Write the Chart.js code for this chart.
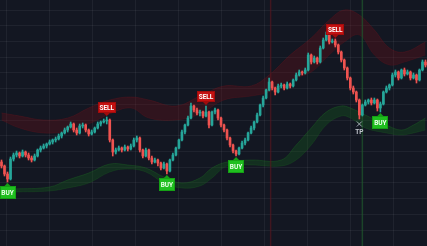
<!DOCTYPE html>
<html>
<head>
<meta charset="utf-8">
<script src="https://cdn.jsdelivr.net/npm/chart.js@4/dist/chart.umd.min.js"></script>
<style>
  html, body { margin: 0; padding: 0; background: #131722; overflow: hidden; }
  #wrap { width: 427px; height: 246px; }
</style>
</head>
<body>
<div id="wrap"><canvas id="myChart" width="427" height="246"></canvas></div>
<script>
// candles, one per bar (price points)
var opens = [84,80,72,67,87,91,93,90,94,91,
    88,86,90,96,98,100,102,104,106,107,
    110,113,116,119,122,116,113,120,121,116,
    112,114,118,122,124,125,126,106,94,96,
    98,96,99,97,100,106,108,96,90,96,
    88,84,86,83,78,82,75,86,91,98,
    106,114,121,128,140,136,133,134,130,134,
    121,134,136,128,121,116,108,101,95,92,
    98,103,106,113,118,124,131,141,148,156,
    164,158,154,160,161,158,162,160,166,171,
    174,173,176,191,184,188,184,198,206,211,
    204,205,201,194,186,178,168,158,154,146,
    131,141,144,146,143,146,138,142,154,158,
    161,171,174,168,176,172,174,168,171,166,
    176,184];
var closes = [80,72,67,87,91,93,90,94,91,88,
    86,90,96,98,100,102,104,106,107,110,
    113,116,119,122,116,113,120,121,116,112,
    114,118,122,124,125,126,106,94,96,98,
    96,99,97,100,106,108,96,90,96,88,
    84,86,83,78,82,75,86,91,98,106,
    114,121,128,140,136,133,134,130,134,121,
    134,136,128,121,116,108,101,95,92,98,
    103,106,113,118,124,131,141,148,156,164,
    158,154,160,161,158,162,160,166,171,174,
    173,176,191,184,188,184,198,206,211,204,
    205,201,194,186,178,168,158,154,146,131,
    141,144,146,143,146,138,142,154,158,161,
    171,174,168,176,172,174,168,171,166,176,
    184,181];
var highs = [86,81,74,89,93,95,94,96,95,93,
    90,92,97,100,102,103,106,107,109,112,
    114,118,120,124,123,118,122,123,122,117,
    116,119,124,125,127,129,127,107,98,100,
    99,101,100,102,108,110,109,97,98,97,
    90,88,87,84,84,83,87,93,99,107,
    116,122,130,143,141,138,136,135,140,135,
    135,138,137,129,122,117,109,102,96,99,
    105,108,114,120,125,133,142,150,157,168,
    165,159,162,163,162,164,163,167,173,176,
    175,178,193,192,190,189,200,208,214,212,
    207,207,202,195,187,179,169,160,155,147,
    142,146,147,148,148,147,144,155,160,162,
    173,176,175,177,178,176,175,173,172,177,
    186,186];
var lows = [78,70,64,66,85,89,88,89,89,86,
    84,85,89,94,97,98,101,102,104,106,
    108,112,114,118,114,111,112,118,114,110,
    111,113,117,120,123,122,104,90,92,95,
    94,95,95,96,99,104,94,88,89,86,
    82,83,80,76,77,72,74,85,90,97,
    105,112,120,127,134,131,130,128,129,118,
    120,132,126,119,114,106,99,93,90,91,
    97,101,105,112,116,123,130,139,147,155,
    156,151,153,158,156,157,158,159,165,170,
    171,172,175,182,183,182,183,197,205,202,
    203,199,192,184,176,166,156,152,144,127,
    130,140,142,141,142,135,134,141,153,156,
    160,169,166,167,170,171,166,167,163,165,
    175,179];

// resistance cloud (red) and support cloud (green), by bar
var redX = [0,6,14,22,29,36,43,49,58,66,74,83,89,96,103,109,114,119,124,129,134,141];
var redTop = [133,130,126,128,138,146,149,146,140,150,160,160,171,191,208,226,236,231,216,198,194,204];
var redBottom = [126,118,113,115,122,132,138,128,126,132,146,150,154,166,174,191,204,211,191,181,184,191];

var greenX = [4,16,22,29,36,42,48,54,60,66,70,75,83,93,98,103,108,113,116,121,128,133,137,141];
var greenTop = [57,59,66,73,82,81,78,69,63,68,78,84,86,86,101,118,134,140,138,131,121,116,121,128];
var greenBottom = [54,55,58,63,74,77,74,63,58,60,68,80,81,80,86,101,121,130,128,118,113,111,113,116];

// signals (bar index)
var buyBars = [2, 55, 78, 126];
var sellBars = [35, 68, 111];
var tpBars = [119];
var exitLineBar = 89.5;
var entryLineBar = 120;

var upColor = "#26a69a";
var downColor = "#ef5350";

var bodies = [], wicks = [], colors = [];
for (var i = 0; i < closes.length; i++) {
    bodies.push({ x: i, y: [opens[i], closes[i]] });
    wicks.push({ x: i, y: [lows[i], highs[i]] });
    colors.push(closes[i] >= opens[i] ? upColor : downColor);
}

function band(xs, ys) {
    return xs.map(function (x, k) { return { x: x, y: ys[k] }; });
}

function vline(bar) {
    return [{ x: bar, y: 0 }, { x: bar, y: 246 }];
}

function drawTag(ctx, x, tipY, up, text, fill, edge, textColor) {
    var w = text.length > 3 ? 18 : 16;
    var h = up ? 13 : 11;
    var top = up ? tipY + 3 : tipY - 3 - h;
    var left = Math.round(x - w / 2);
    ctx.fillStyle = fill;
    ctx.fillRect(left, Math.round(top), w, h);
    ctx.strokeStyle = edge;
    ctx.lineWidth = 1;
    ctx.strokeRect(left + 0.5, Math.round(top) + 0.5, w - 1, h - 1);
    var b = up ? top : top + h;
    ctx.beginPath();
    ctx.moveTo(x - 3, b);
    ctx.lineTo(x + 3, b);
    ctx.lineTo(x, tipY);
    ctx.closePath();
    ctx.fillStyle = edge;
    ctx.fill();
    ctx.fillStyle = textColor;
    ctx.fillText(text, x, top + h / 2 + 0.5);
}

var signalPlugin = {
    id: "signals",
    afterDatasetsDraw: function (chart) {
        var ctx = chart.ctx;
        var xs = chart.scales.x, ys = chart.scales.y;
        ctx.save();
        ctx.font = "bold 6.5px Roboto";
        ctx.textAlign = "center";
        ctx.textBaseline = "middle";
        sellBars.forEach(function (b) {
            drawTag(ctx, xs.getPixelForValue(b), ys.getPixelForValue(highs[b]) - 1, false, "SELL", "#c41111", "#a10c0c", "#ffffff");
        });
        buyBars.forEach(function (b) {
            drawTag(ctx, xs.getPixelForValue(b), ys.getPixelForValue(lows[b]) + 1, true, "BUY", "#1fbf1f", "#15a015", "#eaffea");
        });
        tpBars.forEach(function (b) {
            var x = xs.getPixelForValue(b), y = ys.getPixelForValue(lows[b]) + 5;
            ctx.strokeStyle = "#a3a8b3";
            ctx.lineWidth = 1;
            ctx.beginPath();
            ctx.moveTo(x - 2.5, y - 2.5); ctx.lineTo(x + 2.5, y + 2.5);
            ctx.moveTo(x + 2.5, y - 2.5); ctx.lineTo(x - 2.5, y + 2.5);
            ctx.stroke();
            ctx.fillStyle = "#c3c7cf";
            ctx.font = "bold 6.5px Roboto";
            ctx.fillText("TP", x, y + 8);
        });
        ctx.restore();
    }
};

var ctx = document.getElementById("myChart");
var myChart = new Chart(ctx, {
    type: "line",
    data: {
        datasets: [
            {
                data: band(redX, redTop),
                borderColor: "rgba(130,18,26,0.25)",
                borderWidth: 1,
                pointRadius: 0,
                tension: 0.4,
                fill: false,
                order: 5
            },
            {
                data: band(redX, redBottom),
                borderColor: "rgba(130,18,26,0.2)",
                borderWidth: 1,
                backgroundColor: "rgba(115,14,22,0.3)",
                pointRadius: 0,
                tension: 0.4,
                fill: "-1",
                order: 5
            },
            {
                data: band(greenX, greenTop),
                borderColor: "rgba(30,120,35,0.3)",
                borderWidth: 1,
                pointRadius: 0,
                tension: 0.4,
                fill: false,
                order: 5
            },
            {
                data: band(greenX, greenBottom),
                borderColor: "rgba(30,120,35,0.2)",
                borderWidth: 1,
                backgroundColor: "rgba(22,100,28,0.32)",
                pointRadius: 0,
                tension: 0.4,
                fill: "-1",
                order: 5
            },
            {
                data: vline(exitLineBar),
                borderColor: "rgba(95,22,30,0.6)",
                borderWidth: 1.5,
                pointRadius: 0,
                order: 4
            },
            {
                data: vline(entryLineBar),
                borderColor: "rgba(32,88,44,0.7)",
                borderWidth: 1.5,
                pointRadius: 0,
                order: 4
            },
            {
                type: "bar",
                data: wicks,
                backgroundColor: colors,
                barThickness: 1,
                grouped: false,
                order: 1
            },
            {
                type: "bar",
                data: bodies,
                backgroundColor: colors,
                barThickness: 2,
                grouped: false,
                order: 0
            }
        ]
    },
    options: {
        responsive: false,
        animation: false,
        devicePixelRatio: 1,
        layout: { padding: 0 },
        plugins: {
            legend: { display: false },
            tooltip: { enabled: false }
        },
        scales: {
            x: {
                type: "linear",
                min: -0.5,
                max: 141.5,
                offset: false,
                afterBuildTicks: function (axis) {
                    var t = [];
                    for (var v = 1.5; v < 141.5; v += 14.3) t.push({ value: v });
                    axis.ticks = t;
                },
                ticks: { display: false },
                grid: { color: "rgba(255,255,255,0.055)", drawTicks: false, offset: false },
                border: { display: false }
            },
            y: {
                type: "linear",
                min: 0,
                max: 246,
                afterBuildTicks: function (axis) {
                    var t = [];
                    for (var v = 16; v < 246; v += 15.71) t.push({ value: v });
                    axis.ticks = t;
                },
                ticks: { display: false },
                grid: { color: "rgba(255,255,255,0.055)", drawTicks: false },
                border: { display: false }
            }
        }
    },
    plugins: [signalPlugin]
});
</script>
</body>
</html>
